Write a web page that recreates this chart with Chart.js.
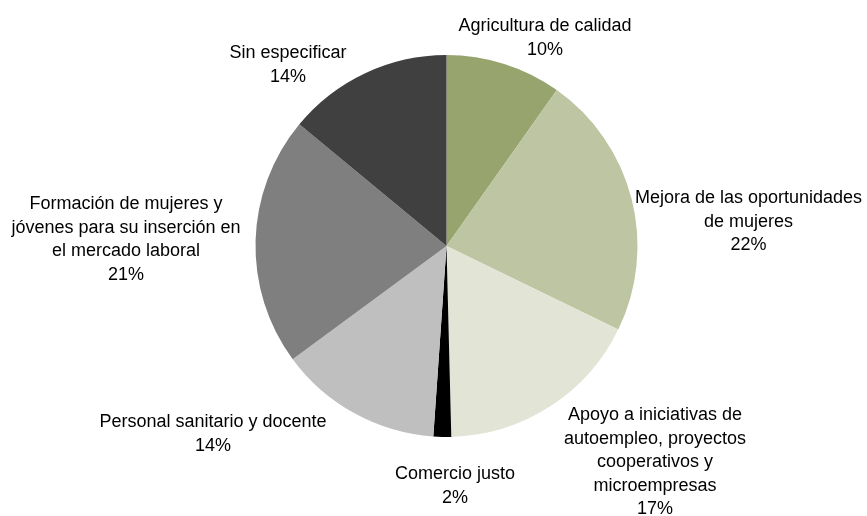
<!DOCTYPE html>
<html>
<head>
<meta charset="utf-8">
<script src="https://cdn.jsdelivr.net/npm/chart.js@4/dist/chart.umd.min.js"></script>
<style>
  html, body { margin: 0; padding: 0; background: #ffffff; }
  #wrap { width: 867px; height: 516px; }
</style>
</head>
<body>
<div id="wrap"><canvas id="c" width="867" height="516"></canvas></div>
<script>
// ---- Data ----
const categories = [
  ["Agricultura de calidad"],
  ["Mejora de las oportunidades", "de mujeres"],
  ["Apoyo a iniciativas de", "autoempleo, proyectos", "cooperativos y", "microempresas"],
  ["Comercio justo"],
  ["Personal sanitario y docente"],
  ["Formación de mujeres y", "jóvenes para su inserción en", "el mercado laboral"],
  ["Sin especificar"]
];
const values = [9.8, 22.4, 17.4, 1.5, 13.8, 21.1, 14.0];

// ---- Styles ----
const sliceColors = ["#98A46E", "#BEC5A2", "#E2E4D6", "#000000", "#BFBFBF", "#7F7F7F", "#404040"];
// label anchor: offset of the label's centre x and first baseline from the pie centre
const labelOffsets = [
  [98.5, -215],
  [302, -43],
  [208.5, 174],
  [8.5, 233],
  [-233.5, 181],
  [-320.5, -37],
  [-158.5, -188]
];
const LINE_H = 23.5;
const FONT = '18px "Liberation Sans", Arial, sans-serif';

const labelPlugin = {
  id: 'outsideLabels',
  afterDatasetsDraw(chart) {
    const ctx = chart.ctx;
    const meta = chart.getDatasetMeta(0);
    const data = chart.data.datasets[0].data;
    const total = data.reduce((a, b) => a + b, 0);
    ctx.save();
    ctx.font = FONT;
    ctx.fillStyle = '#000000';
    ctx.textAlign = 'center';
    ctx.textBaseline = 'alphabetic';
    meta.data.forEach((arc, i) => {
      const lines = chart.data.labels[i].concat([Math.round(data[i] / total * 100) + '%']);
      const cx = arc.x + labelOffsets[i][0];
      const y0 = arc.y + labelOffsets[i][1];
      lines.forEach((t, k) => ctx.fillText(t, cx, y0 + k * LINE_H));
    });
    ctx.restore();
  }
};

new Chart(document.getElementById('c'), {
  type: 'pie',
  data: {
    labels: categories,
    datasets: [{
      data: values,
      backgroundColor: sliceColors,
      hoverBackgroundColor: sliceColors,
      borderWidth: 0,
      hoverBorderWidth: 0,
      offset: 0,
      hoverOffset: 0,
      spacing: 0
    }]
  },
  options: {
    responsive: false,
    devicePixelRatio: 1,
    animation: false,
    events: [],
    layout: { padding: { left: 255, right: 229, top: 55, bottom: 79 } },
    plugins: {
      legend: { display: false },
      tooltip: { enabled: false },
      title: { display: false }
    }
  },
  plugins: [labelPlugin]
});
</script>
</body>
</html>
